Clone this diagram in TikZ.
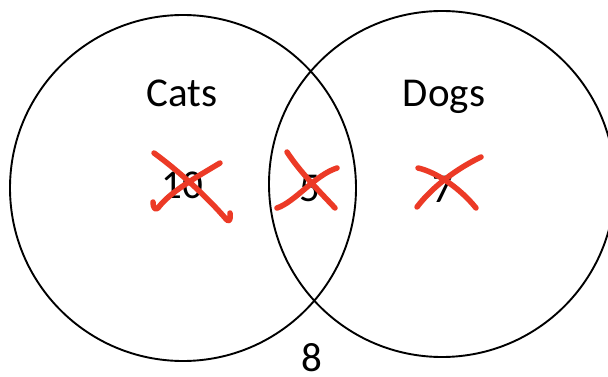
\documentclass[tikz,border=0pt]{standalone}
\usepackage{fontspec}
\setmainfont{Carlito}
\definecolor{penred}{RGB}{236,58,38}
\begin{document}
\begin{tikzpicture}[x=1pt,y=-1pt,
  setring/.style={circle,draw=black,line width=1.9pt,minimum size=346pt,inner sep=0pt},
  lbl/.style={font=\fontsize{41}{41}\selectfont,anchor=base,inner sep=0pt},
  pen/.style={draw=penred,line width=5.5pt,line cap=round,line join=round}]
\useasboundingbox (0,0) rectangle (608,377);
\clip (0,0) rectangle (608,377);
\fill[white] (0,0) rectangle (608,377);

% the two sets
\node[setring] (catset) at (183,188) {};
\node[setring] (dogset) at (442,184) {};

% set names
\node[lbl] (catname) at (182,107) {Cats};
\node[lbl] (dogname) at (444,107) {Dogs};

% counts
\node[lbl] (onlycats) at (182,199) {10};
\node[lbl] (both) at (310,201) {5};
\node[lbl] (onlydogs) at (443,202) {7};
\node[lbl] (neither) at (312,371) {8};

% red crossings-out
\draw[pen] (154,153) .. controls (180,172) and (208,198) .. (226,219)
           .. controls (229,223) and (231,220) .. (230,213);
\draw[pen] (220,163) .. controls (195,178) and (170,192) .. (158,208)
           .. controls (155,211) and (153,207) .. (153,202);
\draw[pen] (287,152) .. controls (300,172) and (320,192) .. (335,208);
\draw[pen] (337,168) .. controls (315,175) and (295,202) .. (277,208);
\draw[pen] (418,168) .. controls (436,172) and (460,188) .. (476,208);
\draw[pen] (481,157) .. controls (458,168) and (433,186) .. (417,207);
\end{tikzpicture}
\end{document}
